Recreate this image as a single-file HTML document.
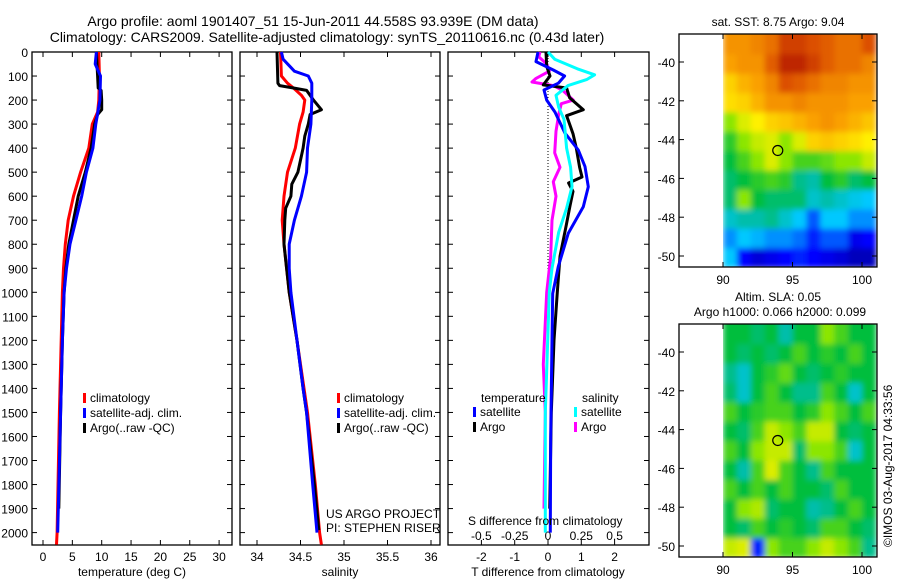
<!DOCTYPE html>
<html><head><meta charset="utf-8">
<style>
body{margin:0;background:#fff;}
svg{display:block;font-family:"Liberation Sans",sans-serif;}
</style></head>
<body>
<svg id="fig" width="900" height="580" viewBox="0 0 900 580" xmlns="http://www.w3.org/2000/svg">
<text x="313" y="26" font-size="14" text-anchor="middle">Argo profile: aoml 1901407_51 15-Jun-2011 44.558S 93.939E (DM data)</text>
<text x="327" y="42" font-size="14" text-anchor="middle">Climatology: CARS2009. Satellite-adjusted climatology: synTS_20110616.nc (0.43d later)</text>
<g id="g1"></g>
<g id="g2"></g>
<g id="g3"></g>
<g id="m1"></g>
<g id="m2"></g>
<text x="778" y="26" font-size="12" text-anchor="middle">sat. SST: 8.75 Argo: 9.04</text>
<text x="778" y="301" font-size="12" text-anchor="middle">Altim. SLA: 0.05</text>
<text x="780" y="316" font-size="12" text-anchor="middle">Argo h1000: 0.066 h2000: 0.099</text>
<text transform="translate(892,547) rotate(-90)" font-size="12">©IMOS 03-Aug-2017 04:33:56</text>
</svg>
<script>
// ---- temperature profiles (depth m, deg C)
const tClimD=[0,100,200,250,300,400,500,600,700,800,900,1000,1200,1500,2000,2050];
const tClimV=[9.5,9.6,9.5,9.3,8.4,7.8,6.4,5.2,4.3,3.8,3.5,3.3,3.1,2.8,2.4,2.3];
const tSatD=[0,50,100,200,300,400,500,600,700,800,900,1000,1200,1500,2000];
const tSatV=[9.1,8.9,9.8,9.7,9.0,8.5,7.4,6.6,5.6,4.6,4.0,3.6,3.3,3.0,2.5];
const tArgD=[0,50,100,150,160,200,240,260,300,400,500,600,700,800,900,1000,1200,1500,1900];
const tArgV=[9.1,9.2,9.3,9.4,9.9,10.0,10.0,9.3,8.8,8.2,7.2,6.0,5.2,4.4,3.9,3.6,3.3,3.0,2.7];
// ---- salinity profiles
const sClimD=[0,100,130,150,180,200,250,300,400,500,600,700,800,900,1000,1200,1400,1500,1800,2000,2050];
const sClimV=[34.27,34.28,34.35,34.42,34.51,34.55,34.53,34.49,34.44,34.35,34.31,34.29,34.31,34.34,34.37,34.46,34.54,34.58,34.67,34.72,34.74];
const sSatD=[0,30,80,100,130,200,300,400,500,600,700,800,900,1000,1200,1400,1500,1800,2000];
const sSatV=[34.28,34.30,34.43,34.59,34.63,34.63,34.62,34.58,34.57,34.51,34.43,34.37,34.37,34.39,34.46,34.53,34.57,34.64,34.69];
const sArgD=[0,130,140,150,160,200,240,260,300,350,400,500,550,600,650,700,800,900,1000,1200,1400,1500,1800,1990];
const sArgV=[34.23,34.24,34.26,34.42,34.57,34.65,34.74,34.61,34.59,34.55,34.53,34.47,34.40,34.39,34.33,34.32,34.31,34.34,34.37,34.46,34.53,34.57,34.66,34.71];
// ---- differences from climatology
const dTSatD=[0,40,75,100,130,158,200,250,338,408,477,561,644,754,893,1005,1200,1600,2000];
const dTSatV=[-0.3,-0.36,0.16,0.5,0.31,-0.12,-0.04,0.21,0.51,0.91,1.11,1.21,1.06,0.61,0.31,0.14,0.12,0.08,0.07];
const dTArgD=[0,60,100,137,150,190,240,265,300,340,400,480,520,545,580,640,720,850,1000,1200,1500,1900];
const dTArgV=[-0.06,-0.04,0.06,-0.14,0.56,0.65,1.06,0.56,0.65,0.75,0.85,0.95,1.02,0.62,0.75,0.66,0.55,0.36,0.28,0.18,0.1,0.05];
const dSSatD=[0,30,70,95,115,140,180,230,280,400,480,560,650,750,900,1000,1500,2000];
const dSSatV=[0,0.05,0.22,0.35,0.29,0.15,0.06,0.08,0.12,0.14,0.17,0.18,0.14,0.08,0.03,0.01,-0.02,-0.02];
const dSArgD=[0,20,50,80,110,125,140,160,200,215,260,330,420,480,540,600,700,850,1000,1300,1500,1900];
const dSArgV=[-0.06,-0.07,-0.01,0.01,-0.09,-0.12,0.04,0.11,0.19,0.1,0.08,0.06,0.05,0.09,0.04,0.06,0.03,0.02,-0.01,-0.035,-0.02,-0.03];
// ---- map fields (jet index 0..1), rows lat -39..-50, cols lon 90..101
const sstGrid=[
[.8,.8,.82,.85,.92,.92,.9,.88,.85,.85,.9],
[.78,.8,.8,.88,.95,.95,.92,.88,.85,.85,.82],
[.7,.75,.78,.82,.9,.88,.85,.82,.82,.8,.8],
[.68,.7,.75,.8,.8,.82,.8,.8,.8,.78,.78],
[.55,.62,.65,.7,.72,.75,.78,.8,.78,.75,.72],
[.48,.55,.6,.62,.55,.62,.7,.72,.7,.68,.65],
[.45,.5,.55,.62,.55,.5,.5,.52,.55,.55,.6],
[.42,.45,.48,.5,.48,.4,.38,.45,.48,.42,.45],
[.42,.55,.45,.42,.42,.42,.35,.38,.35,.32,.3],
[.35,.38,.38,.4,.35,.3,.2,.3,.3,.25,.25],
[.25,.3,.28,.25,.25,.22,.15,.2,.2,.1,.12],
[.3,.12,.08,.1,.12,.15,.12,.1,.08,.05,.05]];
const slaGrid=[
[.45,.45,.42,.45,.38,.45,.45,.55,.5,.45,.45],
[.45,.42,.45,.42,.45,.5,.45,.48,.45,.5,.45],
[.4,.35,.45,.48,.52,.45,.42,.45,.48,.45,.45],
[.42,.35,.45,.5,.45,.4,.4,.5,.45,.35,.45],
[.5,.45,.48,.5,.5,.45,.48,.55,.5,.45,.5],
[.45,.42,.5,.6,.55,.5,.6,.6,.45,.42,.45],
[.5,.45,.55,.6,.6,.42,.55,.55,.5,.35,.45],
[.45,.38,.5,.62,.5,.45,.4,.5,.45,.45,.45],
[.5,.45,.5,.45,.5,.45,.45,.42,.5,.45,.45],
[.45,.55,.58,.42,.45,.45,.38,.4,.45,.5,.45],
[.45,.42,.5,.45,.48,.45,.42,.5,.5,.45,.42],
[.6,.62,.15,.55,.5,.5,.55,.6,.55,.5,.4]];
const depthTicks=[0,100,200,300,400,500,600,700,800,900,1000,1100,1200,1300,1400,1500,1600,1700,1800,1900,2000];
const tTicks=[0,5,10,15,20,25,30];
const sTicks=[34,34.5,35,35.5,36];
const dTTicks=[-2,-1,0,1,2];
const dSTicks=[-0.5,-0.25,0,0.25,0.5];
const dSTickLabels=["-0.5","-0.25","0","0.25","0.5"];
const latTicks=[-40,-42,-44,-46,-48,-50];
const lonTicks=[90,95,100];
const argoPos=[93.94,-44.56];

const NS="http://www.w3.org/2000/svg";
function mk(parent,tag,attrs){const e=document.createElementNS(NS,tag);for(const k in attrs)e.setAttribute(k,attrs[k]);parent.appendChild(e);return e;}
const yD=d=>52+d*0.2403;
const TOP=52,BOT=545;

function panel(g,x0,x1,xs,ticks,labels,name){
  const r=mk(g,'rect',{x:x0,y:TOP,width:x1-x0,height:BOT-TOP,fill:'none',stroke:'#000','stroke-width':1.3});
  
  
  ticks.forEach((t,i)=>{
    const x=xs(t);
    mk(g,'line',{x1:x,x2:x,y1:TOP,y2:TOP+5,stroke:'#000'});
    mk(g,'line',{x1:x,x2:x,y1:BOT,y2:BOT-5,stroke:'#000'});
    if(labels){const tx=mk(g,'text',{x:x,y:561,'font-size':12,'text-anchor':'middle'});tx.textContent=labels[i];
      
      }
  });
  depthTicks.forEach(d=>{
    mk(g,'line',{x1:x0,x2:x0+5,y1:yD(d),y2:yD(d),stroke:'#000'});
    mk(g,'line',{x1:x1,x2:x1-5,y1:yD(d),y2:yD(d),stroke:'#000'});
  });
}
function line(g,xs,D,V,col,name,w){
  const p=mk(g,'polyline',{points:D.map((d,i)=>xs(V[i]).toFixed(1)+','+yD(d).toFixed(1)).join(' '),fill:'none',stroke:col,'stroke-width':w||3,'stroke-linejoin':'round'});
  
  
}
function txt(g,x,y,s,name,anchor){const t=mk(g,'text',{x:x,y:y,'font-size':12,'text-anchor':anchor||'start'});t.textContent=s;
  
  return t;}
function legend(g,x,y,col,s,name){
  const r=mk(g,'rect',{x:x,y:y-9,width:3,height:10,fill:col});
  
  
  txt(g,x+7,y,s,name);
}

// Panel 1 temperature
const g1=document.getElementById('g1');
const xT=v=>43+v*5.87;
panel(g1,32,232,xT,tTicks,tTicks.map(String),'temperature');
depthTicks.forEach(d=>txt(g1,28,yD(d)+5,String(d),'depth-tick-label','end'));
line(g1,xT,tClimD,tClimV,'#f00','temp-climatology-line');
line(g1,xT,tArgD,tArgV,'#000','temp-argo-line');
line(g1,xT,tSatD,tSatV,'#00f','temp-satellite-line');
txt(g1,132,576,'temperature (deg C)','temperature-axis-title','middle');
legend(g1,83,402,'#f00','climatology','legend-climatology');
legend(g1,83,417,'#00f','satellite-adj. clim.','legend-satellite');
legend(g1,83,432,'#000','Argo(..raw -QC)','legend-argo');

// Panel 2 salinity
const g2=document.getElementById('g2');
const xS=v=>257+(v-34)*87;
panel(g2,240,440,xS,sTicks,sTicks.map(String),'salinity');
line(g2,xS,sClimD,sClimV,'#f00','sal-climatology-line');
line(g2,xS,sArgD,sArgV,'#000','sal-argo-line');
line(g2,xS,sSatD,sSatV,'#00f','sal-satellite-line');
txt(g2,340,576,'salinity','salinity-axis-title','middle');
legend(g2,337,402,'#f00','climatology','legend-climatology');
legend(g2,337,417,'#00f','satellite-adj. clim.','legend-satellite');
legend(g2,337,432,'#000','Argo(..raw -QC)','legend-argo');
txt(g2,326,518,'US ARGO PROJECT','project-credit');
txt(g2,326,532,'PI: STEPHEN RISER','pi-credit');

// Panel 3 differences
const g3=document.getElementById('g3');
const xdT=v=>548+v*33.3;
const xdS=v=>548+v*133.2;
panel(g3,448,649,xdT,dTTicks,null,'difference');
dTTicks.forEach(t=>txt(g3,xdT(t),561,String(t),'t-diff-tick-label','middle'));
dSTicks.forEach((t,i)=>txt(g3,xdS(t),540,dSTickLabels[i],'s-diff-tick-label','middle'));
const zl=mk(g3,'line',{x1:548,x2:548,y1:55,y2:350,stroke:'#000','stroke-dasharray':'1,2'});


line(g3,xdS,dSArgD,dSArgV,'#f0f','s-diff-argo-line');
line(g3,xdT,dTArgD,dTArgV,'#000','t-diff-argo-line');
line(g3,xdT,dTSatD,dTSatV,'#00f','t-diff-satellite-line');
line(g3,xdS,dSSatD,dSSatV,'#0ff','s-diff-satellite-line');
txt(g3,481,402,'temperature','legend-temperature-header');
legend(g3,473,416,'#00f','satellite','legend-t-satellite');
legend(g3,473,431,'#000','Argo','legend-t-argo');
txt(g3,582,402,'salinity','legend-salinity-header');
legend(g3,574,416,'#0ff','satellite','legend-s-satellite');
legend(g3,574,431,'#f0f','Argo','legend-s-argo');
txt(g3,468,525,'S difference from climatology','s-diff-axis-title');
txt(g3,548,576,'T difference from climatology','t-diff-axis-title','middle');

// Maps
function jet(v){
  const stops=[[0,[0,0,140]],[0.12,[0,0,255]],[0.3,[0,200,255]],[0.38,[0,190,170]],[0.45,[0,190,60]],[0.55,[140,230,0]],[0.65,[255,240,0]],[0.78,[250,160,0]],[0.9,[220,80,0]],[1,[160,0,0]]];
  for(let i=1;i<stops.length;i++){if(v<=stops[i][0]){const a=stops[i-1],b=stops[i],f=(v-a[0])/(b[0]-a[0]);return 'rgb('+a[1].map((c,j)=>Math.round(c+(b[1][j]-c)*f)).join(',')+')';}}
  return 'rgb(160,0,0)';
}
function map(id,y0,grid,name){
  const g=document.getElementById(id);
  const xL=lon=>723+(lon-90)*13.9;
  const yL=lat=>y0+28+(-40-lat)*19.4;
  const top=y0,bot=y0+233;
  const cp=mk(g,'clipPath',{id:id+'clip'});
  mk(cp,'rect',{x:723,y:top,width:877-723,height:bot-top});
  const fid=id+'blur';
  const f=mk(g,'filter',{id:fid,x:'-10%',y:'-10%',width:'120%',height:'120%'});
  mk(f,'feGaussianBlur',{stdDeviation:3});
  const cg=mk(g,'g',{'clip-path':'url(#'+id+'clip)'});
  const bg=mk(cg,'g',{filter:'url(#'+fid+')'});
  grid.forEach((row,r)=>row.forEach((v,c)=>{
    const lat=-38.6-r, lon=90+c;
    const x=xL(lon), y=yL(lat);
    const rc=mk(bg,'rect',{x:x-(c==0?0:0),y:(r==0?top-10:y),width:14.5,height:(r==0?y-top+30:20),fill:jet(v)});
    
    
  }));
  const fr=mk(g,'rect',{x:679,y:top,width:198,height:bot-top,fill:'none',stroke:'#000','stroke-width':1.3});
  
  
  latTicks.forEach(l=>{
    mk(g,'line',{x1:679,x2:684,y1:yL(l),y2:yL(l),stroke:'#000'});
    mk(g,'line',{x1:877,x2:872,y1:yL(l),y2:yL(l),stroke:'#000'});
    txt(g,675,yL(l)+5,String(l),name+'-lat-label','end');
  });
  lonTicks.forEach(l=>{
    mk(g,'line',{x1:xL(l),x2:xL(l),y1:top,y2:top+5,stroke:'#000'});
    mk(g,'line',{x1:xL(l),x2:xL(l),y1:bot,y2:bot-5,stroke:'#000'});
    txt(g,xL(l),bot+17,String(l),name+'-lon-label','middle');
  });
  const c=mk(g,'circle',{cx:xL(argoPos[0]),cy:yL(argoPos[1]),r:5,fill:'none',stroke:'#000','stroke-width':1.2});
  
  
}
map('m1',34,sstGrid,'sst-map');
map('m2',324,slaGrid,'sla-map');
</script>
</body></html>
